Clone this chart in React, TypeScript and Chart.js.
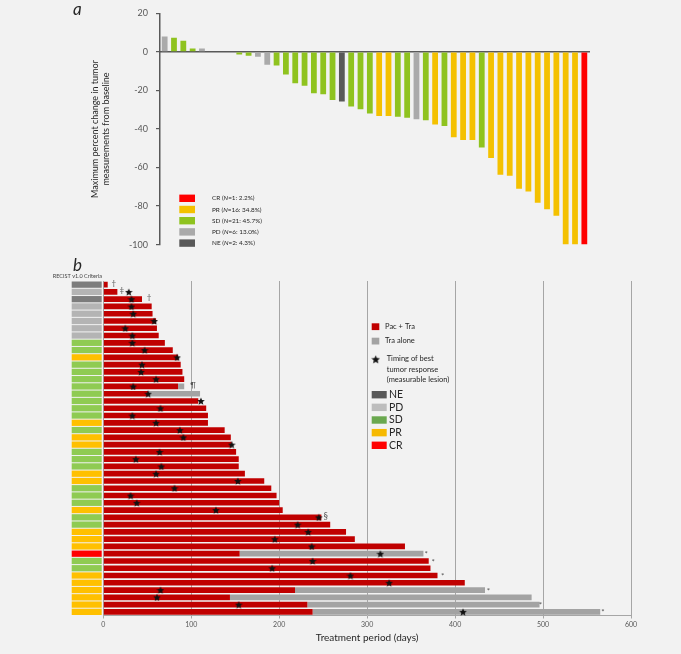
import { useEffect, useRef } from "react";
import { Chart, registerables } from "chart.js";

Chart.register(...registerables);
Chart.defaults.font.family = "Lato, 'Open Sans', sans-serif";

// ---------- Panel a: waterfall (max % change from baseline) ----------
const waterfallValues = [
  8, 7.3, 5.8, 1.8, 1.8, 0, 0, 0, -1.3, -2, -2.5, -6.6, -7.1, -11.7, -16.2, -17.6,
  -21.5, -22, -25, -25.7, -28.3, -29.8, -32, -33.3, -33.3, -33.6, -34.1, -35, -35.5,
  -37.6, -38.5, -44.3, -45.7, -45.7, -49.6, -55, -63.8, -64.2, -71, -72.4, -78.3,
  -81.6, -85, -100, -100, -100,
];
const waterfallResponse = [
  "PD", "SD", "SD", "SD", "PD", "SD", "PD", "NE", "SD", "SD", "PD", "PD", "SD", "SD",
  "SD", "SD", "SD", "SD", "SD", "NE", "SD", "SD", "SD", "PR", "PR", "SD", "SD", "PD",
  "SD", "PR", "SD", "PR", "PR", "PR", "SD", "PR", "PR", "PR", "PR", "PR", "PR", "PR",
  "PR", "PR", "PR", "CR",
];
const waterfallPatients = waterfallValues.map((_, i) => `Patient ${i + 1}`);
const waterfallTicks = [20, 0, -20, -40, -60, -80, -100];

const legendACodes = ["CR", "PR", "SD", "PD", "NE"];
const legendACounts = [1, 16, 21, 6, 2];
const legendAPercents = ["2.2", "34.8", "45.7", "13.0", "4.3"];

// ---------- Panel b: swimmer plot (treatment period, days) ----------
const swimResponse = [
  "NE", "PD", "NE", "PD", "PD", "PD", "PD", "PD", "SD", "SD", "PR", "SD", "SD", "SD",
  "SD", "SD", "SD", "SD", "SD", "PR", "SD", "PR", "PR", "SD", "SD", "SD", "PR", "PR",
  "SD", "SD", "SD", "PR", "SD", "SD", "PR", "PR", "PR", "CR", "SD", "SD", "PR", "PR",
  "PR", "PR", "PR", "PR",
];
const pacTraDays = [
  5, 16, 44, 55, 56, 60, 61, 63, 70, 79, 85, 88, 90, 92, 85, 51, 108, 117, 119, 119,
  138, 145, 146, 151, 154, 154, 161, 183, 191, 197, 200, 204, 248, 258, 276, 286, 343,
  155, 370, 372, 380, 411, 218, 144, 232, 238,
];
const traAloneDays = [
  0, 0, 0, 0, 0, 0, 0, 0, 0, 0, 0, 0, 0, 0, 7, 59, 0, 0, 0, 0, 0, 0, 0, 0, 0, 0, 0, 0,
  0, 0, 0, 0, 0, 0, 0, 0, 0, 209, 0, 0, 0, 0, 216, 343, 264, 327,
];
const bestResponseDay = [
  null, 29, 32, 32, 34, 58, 25, 33, 33, 47, 84, 44, 43, 60, 34, 51, 111, 65, 33, 60, 87,
  91, 146, 64, 37, 66, 60, 153, 81, 31, 38, 128, 245, 221, 233, 195, 237, 315, 238, 192,
  281, 325, 65, 61, 154, 409,
];
const noteRows = [0, 1, 2, 14, 32, 37, 38, 40, 42, 44, 45];
const noteDays = [12, 21, 52, 102, 253, 367, 375, 386, 438, 497, 568];
const noteMarks = ["†", "‡", "†", "¶", "§", "*", "*", "*", "*", "*", "*"];
const swimPatients = swimResponse.map((_, i) => `Row ${i + 1}`);
const dayTicks = [0, 100, 200, 300, 400, 500, 600];

const legendBCodes = ["NE", "PD", "SD", "PR", "CR"];

// ---------- colours ----------
const WF_COLORS: Record<string, string> = {
  CR: "#ff0000", PR: "#f4c100", SD: "#8fc31f", PD: "#aaaaaa", NE: "#595959",
};
const COL_COLORS: Record<string, string> = {
  CR: "#ff0000", PR: "#ffc000", SD: "#8fcb52", PD: "#b4b4b4", NE: "#7c7c7c",
};
const LEG_B_COLORS: Record<string, string> = {
  NE: "#595959", PD: "#bdbdbd", SD: "#6aa84f", PR: "#f6b900", CR: "#ff0000",
};
const PAC_COLOR = "#c00000";
const TRA_COLOR = "#a3a3a3";

function makeStar(size: number, color = "#111") {
  const c = document.createElement("canvas");
  c.width = size;
  c.height = size;
  const ctx = c.getContext("2d")!;
  const cx = size / 2, cy = size / 2 + 0.4, R = size / 2, r = R * 0.45;
  ctx.beginPath();
  for (let k = 0; k < 10; k++) {
    const ang = -Math.PI / 2 + (k * Math.PI) / 5;
    const rad = k % 2 === 0 ? R : r;
    ctx.lineTo(cx + rad * Math.cos(ang), cy + rad * Math.sin(ang));
  }
  ctx.closePath();
  ctx.fillStyle = color;
  ctx.fill();
  return c;
}

export default function App() {
  const aRef = useRef<HTMLCanvasElement>(null);
  const bRef = useRef<HTMLCanvasElement>(null);

  useEffect(() => {
    const star = makeStar(8);
    const legendStar = makeStar(9);

    const legendAPlugin = {
      id: "legendA",
      afterDraw(chart: any) {
        const ctx = chart.ctx as CanvasRenderingContext2D;
        const ca = chart.chartArea;
        ctx.save();
        ctx.textBaseline = "middle";
        legendACodes.forEach((code, k) => {
          const y = 198.3 + k * 11.2;
          ctx.fillStyle = WF_COLORS[code];
          ctx.fillRect(ca.left + 19.3, y - 3.7, 15.7, 7.4);
          let x = ca.left + 52;
          ctx.fillStyle = "#262626";
          const parts: [string, boolean][] = [
            [`${code} (`, false],
            ["N", true],
            [`=${legendACounts[k]}: ${legendAPercents[k]}%)`, false],
          ];
          parts.forEach(([t, it]) => {
            ctx.font = `${it ? "italic " : ""}6.4px Lato`;
            ctx.fillText(t, x, y);
            x += ctx.measureText(t).width;
          });
        });
        ctx.font = "italic 17px Lato";
        ctx.fillStyle = "#262626";
        ctx.fillText("a", 73, 10);
        ctx.restore();
      },
    };

    const chartA = new Chart(aRef.current!, {
      type: "bar",
      data: {
        labels: waterfallPatients,
        datasets: [
          {
            label: "Maximum percent change",
            data: waterfallValues,
            backgroundColor: waterfallResponse.map((r) => WF_COLORS[r]),
            barPercentage: 0.62,
            categoryPercentage: 1,
          },
        ],
      },
      options: {
        animation: false,
        responsive: false,
        layout: { padding: { left: 84, top: 11, right: 92, bottom: 5 } },
        plugins: { legend: { display: false }, tooltip: { enabled: false } },
        scales: {
          x: {
            position: { y: 0 } as any,
            grid: { display: false },
            ticks: { display: false },
            border: { color: "#595959", width: 1.5 },
          },
          y: {
            min: -100,
            max: 20,
            afterBuildTicks: (s: any) => {
              s.ticks = waterfallTicks.map((v) => ({ value: v }));
            },
            ticks: { font: { size: 9 }, color: "#595959", padding: 8 },
            grid: { drawOnChartArea: false, tickLength: 4, color: "#595959", lineWidth: 1.2 },
            border: { color: "#595959", width: 1.5 },
            title: {
              display: true,
              text: ["Maximum percent change in tumor", "measurements from baseline"],
              font: { size: 9, lineHeight: 1.3 },
              color: "#262626",
              padding: { top: 5, bottom: 0 },
            },
            afterFit: (s: any) => {
              s.width = 76;
            },
          },
        },
      },
      plugins: [legendAPlugin],
    });

    const swimPlugin = {
      id: "swimExtras",
      afterDraw(chart: any) {
        const ctx = chart.ctx as CanvasRenderingContext2D;
        const ys = chart.scales.y;
        const xs = chart.scales.x;
        const pitch = ys.getPixelForValue(1) - ys.getPixelForValue(0);
        ctx.save();
        // RECIST colour column
        swimResponse.forEach((r, i) => {
          const yc = ys.getPixelForValue(i);
          ctx.fillStyle = COL_COLORS[r];
          ctx.fillRect(71.7, yc - pitch / 2 + 0.5, 30, pitch - 1);
        });
        // footnote marks
        ctx.fillStyle = "#555";
        ctx.textAlign = "center";
        ctx.textBaseline = "middle";
        noteRows.forEach((row, k) => {
          const m = noteMarks[k];
          ctx.font = m === "§" ? "9px Lato" : "8px Lato";
          ctx.fillText(m, xs.getPixelForValue(noteDays[k]), ys.getPixelForValue(row) + (m === "*" ? 1 : -1.5));
        });
        // labels
        ctx.textAlign = "right";
        ctx.fillStyle = "#404040";
        ctx.font = "5.5px Lato";
        ctx.fillText("RECIST v1.0 Criteria", 102, 18);
        ctx.textAlign = "left";
        ctx.font = "italic 17px Lato";
        ctx.fillStyle = "#262626";
        ctx.fillText("b", 73, 8);
        // legend
        ctx.textBaseline = "middle";
        ctx.fillStyle = PAC_COLOR;
        ctx.fillRect(371.7, 65.3, 7.6, 6.8);
        ctx.fillStyle = TRA_COLOR;
        ctx.fillRect(371.7, 79.7, 7.6, 6.8);
        ctx.fillStyle = "#262626";
        ctx.font = "7.5px Lato";
        ctx.fillText("Pac + Tra", 385, 68.7);
        ctx.fillText("Tra alone", 385, 83);
        ctx.drawImage(legendStar, 371.2, 96.8);
        ctx.fillText("Timing of best", 386.7, 101);
        ctx.fillText("tumor response", 386.7, 111.5);
        ctx.fillText("(measurable lesion)", 386.7, 121.7);
        legendBCodes.forEach((code, k) => {
          const yc = 136.7 + k * 12.65;
          ctx.fillStyle = LEG_B_COLORS[code];
          ctx.fillRect(371.7, yc - 3.7, 15, 7.4);
          ctx.fillStyle = "#262626";
          ctx.font = "10.5px Lato";
          ctx.fillText(code, 389, yc);
        });
        ctx.restore();
      },
    };

    const chartB = new Chart(bRef.current!, {
      type: "bar",
      data: {
        labels: swimPatients,
        datasets: [
          {
            type: "scatter",
            label: "Timing of best tumor response",
            data: bestResponseDay
              .map((d, i) => (d == null ? null : { x: d, y: swimPatients[i] }))
              .filter((p) => p !== null) as any,
            pointStyle: star as any,
            order: 0,
          } as any,
          {
            label: "Pac + Tra",
            data: pacTraDays,
            backgroundColor: PAC_COLOR,
            barPercentage: 0.78,
            categoryPercentage: 1,
            grouped: false,
            order: 1,
          },
          {
            label: "Tra alone",
            data: traAloneDays.map((d, i) => (d > 0 ? [pacTraDays[i], pacTraDays[i] + d] : null)) as any,
            backgroundColor: TRA_COLOR,
            barPercentage: 0.78,
            categoryPercentage: 1,
            grouped: false,
            order: 1,
          },
        ],
      },
      options: {
        indexAxis: "y",
        animation: false,
        responsive: false,
        layout: { padding: { left: 103.3, top: 23, right: 50, bottom: 0 } },
        plugins: { legend: { display: false }, tooltip: { enabled: false } },
        scales: {
          x: {
            type: "linear",
            min: 0,
            max: 600,
            afterBuildTicks: (s: any) => {
              s.ticks = dayTicks.map((v) => ({ value: v }));
            },
            ticks: { font: { size: 7 }, color: "#595959", padding: 2 },
            grid: { color: "#a6a6a6", lineWidth: 1, tickLength: 3 },
            border: { color: "#a6a6a6", width: 1 },
            title: {
              display: true,
              text: "Treatment period (days)",
              font: { size: 10, lineHeight: 1.2 },
              color: "#262626",
              padding: { top: 0, bottom: 10 },
            },
            afterFit: (s: any) => {
              s.height = 38.5;
            },
          },
          y: { type: "category", display: false },
        },
      },
      plugins: [swimPlugin],
    });

    return () => {
      chartA.destroy();
      chartB.destroy();
    };
  }, []);

  return (
    <div
      style={{
        position: "absolute",
        left: 0,
        top: 0,
        width: 681,
        height: 654,
        background: "#f2f2f2",
        overflow: "hidden",
      }}
    >
      <canvas
        ref={aRef}
        width={681}
        height={258}
        style={{ position: "absolute", left: 0, top: 0, width: 681, height: 258 }}
      />
      <canvas
        ref={bRef}
        width={681}
        height={396}
        style={{ position: "absolute", left: 0, top: 258, width: 681, height: 396 }}
      />
    </div>
  );
}
